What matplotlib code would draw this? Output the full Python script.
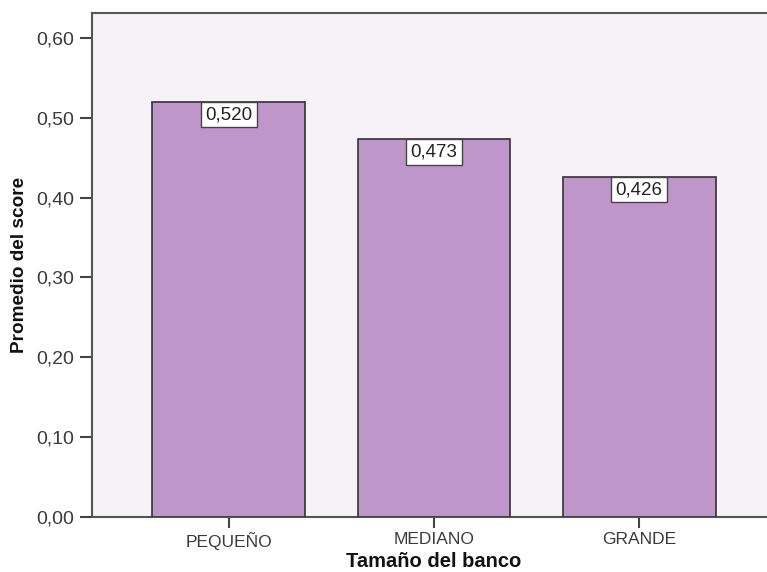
import matplotlib
matplotlib.use("Agg")
import matplotlib.pyplot as plt
from matplotlib.ticker import FuncFormatter

# Mean score by bank size
categorias = ["PEQUEÑO", "MEDIANO", "GRANDE"]
promedios = [0.520, 0.473, 0.426]
yticks = [0.0, 0.1, 0.2, 0.3, 0.4, 0.5, 0.6]

plt.rcParams['font.family'] = ['Liberation Sans', 'DejaVu Sans']

fig = plt.figure(figsize=(7.67, 5.72), dpi=100, facecolor='white')
ax = fig.add_axes([92/767, 55/572, 684/767, 504/572], facecolor='#f7f2f7')

x = range(len(categorias))
ax.bar(x, promedios, width=0.746, color='#be96ca', edgecolor='#333333',
       linewidth=1.2, zorder=3)

# value boxes hanging from the top of each bar
for xi, v in zip(x, promedios):
    ax.annotate(f"{v:.3f}".replace('.', ','), xy=(xi, v), xytext=(0, -3),
                textcoords='offset points', ha='center', va='top',
                fontsize=13.5, color='#222222', zorder=5,
                bbox=dict(boxstyle='square,pad=0.22', fc='white',
                          ec='#444444', lw=1.0))

ax.set_xlim(-0.668, 2.668)
ax.set_ylim(0, 0.6313)
ax.set_yticks(yticks)
ax.yaxis.set_major_formatter(FuncFormatter(lambda v, p: f"{v:.2f}".replace('.', ',')))
ax.set_xticks(list(x))
ax.set_xticklabels(categorias)

for s in ax.spines.values():
    s.set_color('#555555')
    s.set_linewidth(1.5)

ax.tick_params(axis='y', length=9, width=1.5, color='#444444', pad=4,
               labelsize=14, labelcolor='#3a3a3a')
ax.tick_params(axis='x', length=8, width=1.5, color='#444444', pad=3,
               labelsize=12.5, labelcolor='#3a3a3a')

ax.set_ylabel("Promedio del score", fontsize=13.7, fontweight='bold',
              color='#111111', labelpad=6)
ax.set_xlabel("Tamaño del banco", fontsize=14.5, fontweight='bold',
              color='#111111', labelpad=1)

fig.savefig("out.png", dpi=100)
